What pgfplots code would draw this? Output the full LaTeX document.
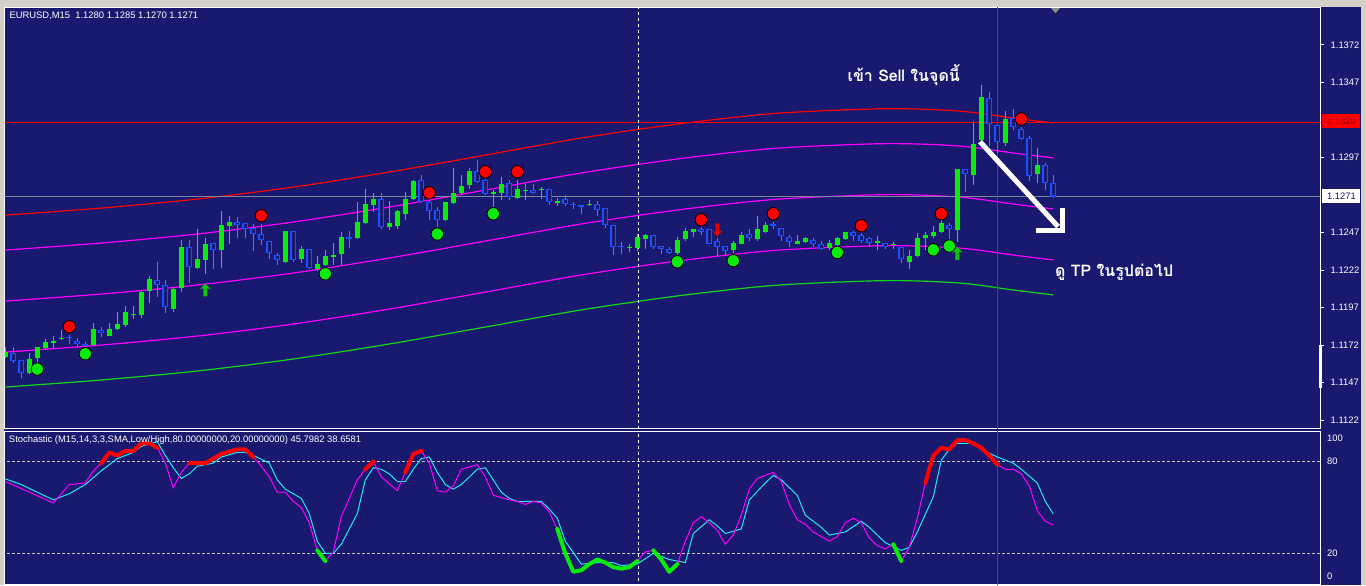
\documentclass[border=0pt]{standalone}
\usepackage{fontspec}
\setmainfont{Liberation Sans}
\newfontfamily\thaifont[Script=Thai]{Loma}
\usepackage{pgfplots}
\usepackage{pgfplotstable}
\pgfplotsset{compat=1.18}

\definecolor{navy}{RGB}{25,25,112}
\definecolor{wingray}{RGB}{212,208,200}
\definecolor{bull}{RGB}{10,235,10}
\definecolor{bearbody}{RGB}{25,80,255}
\definecolor{bearwick}{RGB}{30,144,255}
\definecolor{bandred}{RGB}{255,0,0}
\definecolor{bandmag}{RGB}{255,0,255}
\definecolor{bandgrn}{RGB}{20,215,20}
\definecolor{stcyan}{RGB}{40,230,240}
\definecolor{slate}{RGB}{119,136,153}
\definecolor{lvl}{RGB}{200,200,200}

\newcommand{\tickfont}{\fontsize{4.7}{5.2}\selectfont}

\pgfdeclareplotmark{uparrow}{%
  \pgfpathmoveto{\pgfqpoint{0pt}{1.2\pgfplotmarksize}}%
  \pgfpathlineto{\pgfqpoint{\pgfplotmarksize}{0.1\pgfplotmarksize}}%
  \pgfpathlineto{\pgfqpoint{0.35\pgfplotmarksize}{0.35\pgfplotmarksize}}%
  \pgfpathlineto{\pgfqpoint{0.35\pgfplotmarksize}{-1.2\pgfplotmarksize}}%
  \pgfpathlineto{\pgfqpoint{-0.35\pgfplotmarksize}{-1.2\pgfplotmarksize}}%
  \pgfpathlineto{\pgfqpoint{-0.35\pgfplotmarksize}{0.35\pgfplotmarksize}}%
  \pgfpathlineto{\pgfqpoint{-\pgfplotmarksize}{0.1\pgfplotmarksize}}%
  \pgfpathclose\pgfusepathqfill}
\pgfdeclareplotmark{downarrow}{%
  \pgfpathmoveto{\pgfqpoint{0pt}{-1.2\pgfplotmarksize}}%
  \pgfpathlineto{\pgfqpoint{\pgfplotmarksize}{-0.1\pgfplotmarksize}}%
  \pgfpathlineto{\pgfqpoint{0.35\pgfplotmarksize}{-0.35\pgfplotmarksize}}%
  \pgfpathlineto{\pgfqpoint{0.35\pgfplotmarksize}{1.2\pgfplotmarksize}}%
  \pgfpathlineto{\pgfqpoint{-0.35\pgfplotmarksize}{1.2\pgfplotmarksize}}%
  \pgfpathlineto{\pgfqpoint{-0.35\pgfplotmarksize}{-0.35\pgfplotmarksize}}%
  \pgfpathlineto{\pgfqpoint{-\pgfplotmarksize}{-0.1\pgfplotmarksize}}%
  \pgfpathclose\pgfusepathqfill}

% EURUSD M15 bars: index, open, high, low, close
\pgfplotstableread{
i o h l c
0 1.11640 1.11707 1.11633 1.11673
1 1.11665 1.11709 1.11602 1.11615
2 1.11618 1.11620 1.11502 1.11535
3 1.11533 1.11667 1.11530 1.11627
4 1.11635 1.11710 1.11600 1.11707
5 1.11702 1.11762 1.11689 1.11740
6 1.11735 1.11780 1.11695 1.11745
7 1.11758 1.11820 1.11755 1.11767
8 1.11769 1.11787 1.11725 1.11765
9 1.11745 1.11767 1.11705 1.11725
10 1.11725 1.11742 1.11698 1.11715
11 1.11720 1.11867 1.11718 1.11827
12 1.11820 1.11842 1.11775 1.11798
13 1.11782 1.11867 1.11780 1.11827
14 1.11825 1.11938 1.11823 1.11860
15 1.11853 1.11978 1.11842 1.11938
16 1.11922 1.11978 1.11893 1.11927
17 1.11920 1.12087 1.11902 1.12075
18 1.12080 1.12180 1.12002 1.12160
19 1.12151 1.12273 1.12042 1.12122
20 1.12118 1.12153 1.11935 1.11975
21 1.11960 1.12105 1.11942 1.12091
22 1.12100 1.12420 1.12075 1.12371
23 1.12371 1.12420 1.12135 1.12238
24 1.12235 1.12491 1.12227 1.12291
25 1.12287 1.12433 1.12193 1.12393
26 1.12398 1.12400 1.12227 1.12355
27 1.12353 1.12613 1.12235 1.12520
28 1.12513 1.12580 1.12393 1.12540
29 1.12540 1.12573 1.12435 1.12518
30 1.12531 1.12535 1.12435 1.12493
31 1.12498 1.12527 1.12349 1.12458
32 1.12458 1.12527 1.12387 1.12418
33 1.12413 1.12415 1.12295 1.12331
34 1.12320 1.12333 1.12253 1.12289
35 1.12273 1.12481 1.12269 1.12480
36 1.12480 1.12481 1.12275 1.12289
37 1.12293 1.12380 1.12269 1.12360
38 1.12360 1.12361 1.12227 1.12235
39 1.12227 1.12313 1.12213 1.12260
40 1.12253 1.12353 1.12247 1.12313
41 1.12309 1.12400 1.12253 1.12320
42 1.12327 1.12473 1.12253 1.12440
43 1.12438 1.12480 1.12367 1.12429
44 1.12435 1.12673 1.12427 1.12540
45 1.12535 1.12760 1.12529 1.12660
46 1.12655 1.12733 1.12609 1.12693
47 1.12691 1.12733 1.12495 1.12509
48 1.12509 1.12680 1.12489 1.12533
49 1.12513 1.12620 1.12495 1.12613
50 1.12595 1.12740 1.12555 1.12693
51 1.12695 1.12820 1.12689 1.12813
52 1.12818 1.12853 1.12669 1.12675
53 1.12671 1.12691 1.12555 1.12611
54 1.12618 1.12640 1.12509 1.12551
55 1.12551 1.12672 1.12547 1.12671
56 1.12665 1.12900 1.12658 1.12731
57 1.12731 1.12853 1.12720 1.12780
58 1.12789 1.12900 1.12758 1.12880
59 1.12880 1.12953 1.12800 1.12809
60 1.12818 1.12827 1.12722 1.12729
61 1.12729 1.12753 1.12555 1.12742
62 1.12733 1.12840 1.12689 1.12795
63 1.12800 1.12820 1.12689 1.12709
64 1.12698 1.12820 1.12693 1.12760
65 1.12749 1.12793 1.12689 1.12755
66 1.12751 1.12791 1.12727 1.12733
67 1.12751 1.12771 1.12693 1.12758
68 1.12758 1.12759 1.12653 1.12671
69 1.12669 1.12700 1.12649 1.12680
70 1.12691 1.12718 1.12647 1.12658
71 1.12662 1.12673 1.12629 1.12653
72 1.12651 1.12652 1.12591 1.12640
73 1.12651 1.12685 1.12649 1.12658
74 1.12658 1.12678 1.12578 1.12618
75 1.12633 1.12634 1.12498 1.12518
76 1.12518 1.12519 1.12318 1.12375
77 1.12380 1.12405 1.12329 1.12371
78 1.12365 1.12395 1.12338 1.12371
79 1.12369 1.12458 1.12347 1.12438
80 1.12429 1.12460 1.12358 1.12451
81 1.12451 1.12452 1.12358 1.12371
82 1.12378 1.12379 1.12327 1.12358
83 1.12358 1.12371 1.12325 1.12331
84 1.12331 1.12440 1.12320 1.12420
85 1.12429 1.12500 1.12415 1.12478
86 1.12473 1.12492 1.12438 1.12491
87 1.12493 1.12509 1.12455 1.12473
88 1.12491 1.12492 1.12391 1.12395
89 1.12411 1.12433 1.12311 1.12375
90 1.12378 1.12379 1.12311 1.12347
91 1.12353 1.12413 1.12331 1.12398
92 1.12395 1.12473 1.12391 1.12451
93 1.12458 1.12493 1.12415 1.12435
94 1.12427 1.12580 1.12415 1.12493
95 1.12475 1.12540 1.12469 1.12520
96 1.12525 1.12540 1.12491 1.12513
97 1.12498 1.12499 1.12415 1.12449
98 1.12440 1.12451 1.12371 1.12409
99 1.12395 1.12451 1.12391 1.12413
100 1.12407 1.12440 1.12402 1.12433
101 1.12420 1.12433 1.12375 1.12395
102 1.12391 1.12411 1.12353 1.12360
103 1.12369 1.12420 1.12353 1.12400
104 1.12387 1.12440 1.12375 1.12433
105 1.12427 1.12474 1.12420 1.12473
106 1.12473 1.12480 1.12415 1.12449
107 1.12451 1.12465 1.12403 1.12415
108 1.12431 1.12440 1.12375 1.12397
109 1.12400 1.12447 1.12351 1.12411
110 1.12398 1.12402 1.12360 1.12371
111 1.12385 1.12407 1.12360 1.12393
112 1.12375 1.12376 1.12265 1.12291
113 1.12273 1.12353 1.12229 1.12313
114 1.12315 1.12469 1.12305 1.12431
115 1.12431 1.12475 1.12353 1.12453
116 1.12447 1.12513 1.12433 1.12475
117 1.12473 1.12580 1.12467 1.12535
118 1.12520 1.12535 1.12420 1.12491
119 1.12487 1.12896 1.12409 1.12895
120 1.12893 1.12894 1.12742 1.12858
121 1.12853 1.13215 1.12787 1.13060
122 1.13087 1.13453 1.13053 1.13375
123 1.13365 1.13409 1.13047 1.13191
124 1.13185 1.13186 1.13000 1.13071
125 1.13069 1.13280 1.13047 1.13227
126 1.13231 1.13291 1.13153 1.13171
127 1.13160 1.13175 1.13087 1.13091
128 1.13098 1.13113 1.12813 1.12849
129 1.12858 1.13031 1.12802 1.12920
130 1.12920 1.12931 1.12753 1.12798
131 1.12800 1.12850 1.12700 1.12710
}\candles

% channel lines
\pgfplotstableread{
i red magA mid magB grn
0 1.12586 1.12353 1.12013 1.11673 1.11440
12 1.12633 1.12400 1.12060 1.11720 1.11487
24 1.12693 1.12460 1.12120 1.11780 1.11547
36 1.12773 1.12540 1.12200 1.11860 1.11627
48 1.12873 1.12640 1.12300 1.11960 1.11727
60 1.12986 1.12753 1.12413 1.12073 1.11840
72 1.13100 1.12867 1.12527 1.12187 1.11954
84 1.13193 1.12960 1.12620 1.12280 1.12047
96 1.13263 1.13030 1.12690 1.12350 1.12117
108 1.13293 1.13060 1.12720 1.12380 1.12147
114 1.13293 1.13060 1.12720 1.12380 1.12147
120 1.13276 1.13043 1.12703 1.12363 1.12130
126 1.13233 1.13000 1.12660 1.12320 1.12087
131 1.13200 1.12967 1.12627 1.12287 1.12054
}\bands

% stochastic main line (magenta)
\pgfplotstableread{
i v
0 67
6 53
7 59
8 65
10 66
11 74
12 79
13 86
14 84
15 87
16 87
17 92
18 92
19 89
20 79
21 63
22 73
23 79
25 79
27 85
29 88
30 88
31 83
32 77
33 70
34 60
35 60
36 54
37 50
38 40
39 22
40 15
41 21
42 44
44 68
45 75
46 80
47 70
49 61
50 73
51 85
52 87
53 79
54 61
55 60
56 64
57 75
59 78
60 70
61 58
63 55
64 54
65 52
66 54
67 53
68 47
69 36
70 20
71 8
72 9
73 13
74 16
75 14
76 11
77 10
78 11
79 15
80 21
81 22
82 16
83 8
84 13
85 28
86 40
87 44
88 40
89 35
90 26
91 32
92 45
93 62
94 69
95 71
96 73
97 67
98 52
99 42
100 39
101 34
102 31
103 28
104 31
105 40
106 43
107 40
108 30
109 25
110 23
111 26
112 15
113 24
114 43
115 66
116 84
117 89
118 88
119 94
120 94
121 92
122 89
123 84
124 78
125 75
126 75
127 72
128 64
129 48
130 41
131 38.66
}\stochk

% stochastic signal line (cyan)
\pgfplotstableread{
i v
0 68.7
2 65
4 60
6 55
8 59
10 65
12 74
14 82
16 86
17 90
19 93
20 84
21 76
22 69
23 72
24 77
26 79
27 83
29 86
30 86
31 84
33 79
34 68
35 62
37 56
38 46
39 28
40 20
41 20
42 26
44 46
45 68
46 76
47 75
48 72
49 67
50 67
51 75
52 82
53 83
54 73
55 65
56 62
57 65
59 75
60 76
61 68
62 60
63 56
64 54
65 54
67 54
68 49
69 43
70 28
72 13
74 14
76 14
77 12
79 13
81 20
83 16
85 14
86 33
88 42
89 38
90 33
92 36
93 55
95 66
96 71
97 68
99 58
100 45
102 37
103 32
105 34
107 41
108 37
110 27
112 22
113 24
114 34
116 57
117 81
118 88
119 92
121 92
122 88
124 83
126 79
127 75
129 66
130 54
131 45.8
}\stochd

\pgfplotsset{
  mtpanel/.style={
    scale only axis, anchor=north west,
    width=657.75pt, xmin=-0.1, xmax=164.34,
    axis line style={white, line width=0.5pt},
    tick style={white, line width=0.5pt},
    tick label style={text=white, font=\tickfont},
    xtick=\empty, ytick pos=right, yticklabel pos=right,
    tick align=outside, scaled y ticks=false,
  },
  candle/.style 2 args={only marks, mark=*, mark size=0pt,
    mark options={draw=none, fill=none}, forget plot,
    error bars/y dir=plus, error bars/y explicit, error bars/error mark=none,
    error bars/error bar style={line width=#2, draw=#1, solid}},
}

\begin{document}
\begin{tikzpicture}
\fill[wingray] (0,0) rectangle (683pt,-292.5pt);
\fill[navy] (2pt,-3.5pt) rectangle (680.5pt,-292.5pt);
\fill[black!45] (525pt,-3.5pt) -- (530.5pt,-3.5pt) -- (527.75pt,-6.6pt) -- cycle;

% ---------- price panel ----------
\begin{axis}[mtpanel, at={(2.25pt,-3.5pt)}, height=210.5pt,
  ymin=1.11167, ymax=1.13973, major tick length=1.8pt,
  ytick={1.1122,1.1147,1.1172,1.1197,1.1222,1.1247,1.1297,1.1347,1.1372},
  yticklabels={1.1122,1.1147,1.1172,1.1197,1.1222,1.1247,1.1297,1.1347,1.1372}]

\addplot[bandred, line width=0.6pt, smooth] table[x=i, y=red] {\bands};
\addplot[bandmag, line width=0.6pt, smooth] table[x=i, y=magA] {\bands};
\addplot[bandmag, line width=0.6pt, smooth] table[x=i, y=mid] {\bands};
\addplot[bandmag, line width=0.6pt, smooth] table[x=i, y=magB] {\bands};
\addplot[bandgrn, line width=0.6pt, smooth] table[x=i, y=grn] {\bands};

\addplot[red, line width=0.6pt] coordinates {(-1,1.13205) (170,1.13205)};
\addplot[slate, line width=0.6pt] coordinates {(-1,1.1271) (170,1.1271)};
\addplot[white, line width=0.5pt, dash pattern=on 1.5pt off 1.5pt] coordinates {(79.1,1.10) (79.1,1.15)};
\addplot[red, line width=0.5pt] coordinates {(124,1.10) (124,1.15)};

% bullish candles
\addplot[candle={bull}{0.5pt}, restrict expr to domain={\thisrow{c}-\thisrow{o}}{0:1}]
  table[x=i, y=l, y error expr=\thisrow{h}-\thisrow{l}] {\candles};
\addplot[candle={bull}{2.75pt}, restrict expr to domain={\thisrow{c}-\thisrow{o}}{0:1}]
  table[x=i, y=o, y error expr={max(\thisrow{c}-\thisrow{o},0.00007)}] {\candles};
% bearish candles (hollow)
\addplot[candle={bearwick}{0.5pt}, restrict expr to domain={\thisrow{o}-\thisrow{c}}{0.0000001:1}]
  table[x=i, y=l, y error expr=\thisrow{h}-\thisrow{l}] {\candles};
\addplot[candle={bearbody}{3pt}, restrict expr to domain={\thisrow{o}-\thisrow{c}}{0.0000001:1}]
  table[x=i, y=c, y error expr={max(\thisrow{o}-\thisrow{c},0.00007)}] {\candles};
\addplot[candle={navy}{1.4pt}, restrict expr to domain={\thisrow{o}-\thisrow{c}}{0.00015:1}]
  table[x=i, y expr=\thisrow{c}+0.00007, y error expr=\thisrow{o}-\thisrow{c}-0.00014] {\candles};

% signal dots
\addplot[only marks, mark=*, mark size=3.1pt, mark options={fill=red, draw=none}] table {
x y
8 1.11842
32 1.12582
53 1.12735
60 1.12875
64 1.12875
87 1.12555
96 1.12595
107 1.12515
117 1.12595
127 1.13227
};
\addplot[only marks, mark=*, mark size=3.1pt, mark options={fill=bull, draw=none}] table {
x y
4 1.11560
10 1.11662
40 1.12195
54 1.12460
61 1.12595
84 1.12275
91 1.12282
104 1.12337
116 1.12355
118 1.12380
};
\addplot[only marks, mark=uparrow, mark size=2.7pt, mark options={fill=bull!85!black, draw=none}] table {
x y
25 1.12087
119 1.12331
};
\addplot[only marks, mark=downarrow, mark size=2.7pt, mark options={fill=red!90!black, draw=none}] table {
x y
89 1.12487
};

% annotation
\draw[white, line width=2.5pt] (axis cs:121.84,1.13075) -- (axis cs:131.6,1.12509);
\draw[white, line width=2.5pt] (axis cs:128.84,1.12482) -- (axis cs:132.18,1.12482) -- (axis cs:132.18,1.12631);
\node[text=white, font={\thaifont\bfseries\fontsize{8}{9}\selectfont}] at (axis cs:112.3,1.13520) {เข้า Sell ในจุดนี้};
\node[text=white, font={\thaifont\bfseries\fontsize{8}{9}\selectfont}] at (axis cs:138.6,1.12207) {ดู TP ในรูปต่อไป};
\end{axis}

% ---------- stochastic panel ----------
\begin{axis}[mtpanel, at={(2.25pt,-215.5pt)}, height=76.5pt,
  ymin=0, ymax=100, major tick length=0pt,
  ytick={5,20,80,95}, yticklabels={0,20,80,100}]
\addplot[lvl, line width=0.5pt, dash pattern=on 1.5pt off 1pt] coordinates {(-1,80) (170,80)};
\addplot[lvl, line width=0.5pt, dash pattern=on 1.5pt off 1pt] coordinates {(-1,20) (170,20)};
\addplot[white, line width=0.5pt, dash pattern=on 1.5pt off 1.5pt] coordinates {(79.1,-10) (79.1,110)};
\addplot[red, line width=0.5pt] coordinates {(124,-10) (124,110)};

\addplot[stcyan, line width=0.5pt] table[x=i, y=v] {\stochd};
\addplot[bandmag, line width=0.5pt] table[x=i, y=v] {\stochk};

% overbought / oversold highlights of the main line
\addplot[red, line width=2pt, line cap=round, line join=round] coordinates {(12,79)(13,86)(14,84)(15,87)(16,87)(17,92)(18,92)(19,89)};
\addplot[red, line width=2pt, line cap=round, line join=round] coordinates {(23,79)(25,79)(27,85)(29,88)(30,88)(31,83)};
\addplot[red, line width=2pt, line cap=round, line join=round] coordinates {(45,75)(46,80)};
\addplot[red, line width=2pt, line cap=round, line join=round] coordinates {(50,73)(51,85)(52,87)};
\addplot[red, line width=2pt, line cap=round, line join=round] coordinates {(115,66)(116,84)(117,89)(118,88)(119,94)(120,94)(121,92)(122,89)(123,84)(124,78)};
\addplot[bull, line width=2pt, line cap=round, line join=round] coordinates {(39,22)(40,15)};
\addplot[bull, line width=2pt, line cap=round, line join=round] coordinates {(69,36)(70,20)(71,8)(72,9)(73,13)(74,16)(75,14)(76,11)(77,10)(78,11)(79,15)};
\addplot[bull, line width=2pt, line cap=round, line join=round] coordinates {(81,22)(82,16)(83,8)(84,13)};
\addplot[bull, line width=2pt, line cap=round, line join=round] coordinates {(111,26)(112,15)};
\end{axis}

% labels on the chart window
\node[anchor=west, text=white, font=\tickfont, inner sep=0pt] at (4.6pt,-7.8pt) {EURUSD,M15\ \ 1.1280 1.1285 1.1270 1.1271};
\node[anchor=west, text=white, font=\tickfont, inner sep=0pt] at (4.3pt,-220pt) {Stochastic (M15,14,3,3,SMA,Low/High,80.00000000,20.00000000) 45.7982 38.6581};
\node[anchor=west, fill=red, text=red!55!black, font=\tickfont, inner sep=0pt, minimum width=19pt, minimum height=7pt] at (661pt,-60.5pt) {1.1320};
\node[anchor=west, fill=white, text=navy, font=\tickfont, inner sep=0pt, minimum width=19pt, minimum height=7pt] at (661pt,-98pt) {1.1271};
\fill[white] (659.6pt,-172.5pt) rectangle (661.2pt,-194pt);

\pgfresetboundingbox
\path[use as bounding box] (0,0) rectangle (683pt,-292.5pt);
\end{tikzpicture}
\end{document}
